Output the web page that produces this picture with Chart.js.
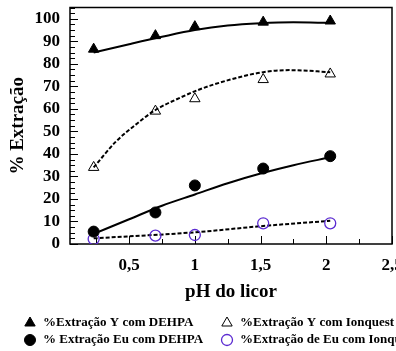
<!DOCTYPE html>
<html>
<head>
<meta charset="utf-8">
<script src="https://cdn.jsdelivr.net/npm/chart.js@4"></script>
<style>
  html, body { margin: 0; padding: 0; background: #fff; overflow: hidden; }
  #wrap { width: 412px; height: 351px; }
</style>
</head>
<body>
<div id="wrap"><canvas id="myChart"></canvas></div>
<script>
// measured points
const phValues = [0.23, 0.70, 1.0, 1.52, 2.03];
const yDehpa = [86.5, 92.5, 96.5, 98.5, 99];
const yIonquest = [34, 59, 64.5, 73, 75.5];
const euDehpa = [5.5, 14, 26, 33.5, 39];
const euIonquest = [2.2, 3.7, 4, 9.2, 9.2];

// trend lines
const yDehpaFitX = [0.23, 0.5, 0.75, 1.0, 1.25, 1.5, 1.75, 2.03];
const yDehpaFitY = [85, 88.7, 92, 95, 97, 98, 98.4, 98.2];
const yIonquestFitX = [0.23, 0.4, 0.55, 0.7, 0.89, 1.03, 1.27, 1.52, 1.72, 2.03];
const yIonquestFitY = [34, 45.5, 53, 59.5, 65, 68.5, 73, 76.3, 77.2, 76.3];
const euDehpaFitX = [0.23, 0.5, 0.75, 1.0, 1.25, 1.5, 1.75, 2.03];
const euDehpaFitY = [4.5, 11, 17, 22, 27, 31.3, 35, 38.5];
const euIonquestFitX = [0.23, 1.0, 1.52, 2.03];
const euIonquestFitY = [2.5, 5.2, 8, 10.3];

const seriesLabels = [
  "%Extração Y com DEHPA",
  "%Extração Y com Ionquest",
  "% Extração Eu com DEHPA",
  "%Extração de Eu com Ionquest",
];
const xTicks = [0.5, 1, 1.5, 2, 2.5];
const xTickLabels = ["0,5", "1", "1,5", "2", "2,5"];
const yTicks = [0, 10, 20, 30, 40, 50, 60, 70, 80, 90, 100];

const serif = "'Liberation Serif', 'Times New Roman', serif";
const purple = "#5b2bd1";
const pts = (xs, ys) => xs.map((x, i) => ({ x: x, y: ys[i] }));

const ctx = document.getElementById("myChart");

// box round the plot and inward ticks
const frameTicks = {
  id: "frameTicks",
  beforeDatasetsDraw(chart) {
    const { ctx, chartArea: a, scales: { x, y } } = chart;
    ctx.save();
    ctx.strokeStyle = "#000";
    ctx.lineWidth = 1.5;
    ctx.strokeRect(a.left, a.top, a.right - a.left, a.bottom - a.top);
    ctx.lineWidth = 1;
    for (let i = 0; i <= 42; i++) {
      const py = Math.round(y.getPixelForValue(i * 2.5)) + 0.5;
      const len = i % 4 === 0 ? 8 : 5;
      ctx.beginPath();
      ctx.moveTo(a.left, py);
      ctx.lineTo(a.left + len, py);
      ctx.stroke();
    }
    for (let i = 1; i <= 10; i++) {
      const px = Math.round(x.getPixelForValue(i * 0.25)) + 0.5;
      const len = i % 2 === 0 ? 8 : 5;
      ctx.beginPath();
      ctx.moveTo(px, a.bottom);
      ctx.lineTo(px, a.bottom - len);
      ctx.stroke();
    }
    ctx.restore();
  },
};

// two-column legend under the axis
const legendBox = {
  id: "legendBox",
  afterDraw(chart) {
    const c = chart.ctx;
    const spots = [[30, 323], [227, 323], [30, 340], [227, 340]];
    chart.data.datasets.slice(0, 4).forEach((ds, i) => {
      const [lx, ly] = spots[i];
      c.save();
      c.fillStyle = ds.backgroundColor;
      c.strokeStyle = ds.borderColor;
      c.lineWidth = ds.borderWidth;
      Chart.helpers.drawPoint(c, {
        pointStyle: ds.pointStyle,
        radius: ds.pointRadius,
        rotation: 0,
        borderWidth: ds.borderWidth,
      }, lx, ly);
      c.fillStyle = "#000";
      c.font = "bold 13px " + serif;
      c.textBaseline = "middle";
      c.fillText(ds.label, lx + 13, ly);
      c.restore();
    });
  },
};

const marker = (label, data, style, fill, border, width, radius) => ({
  label: label,
  data: data,
  showLine: false,
  pointStyle: style,
  pointRadius: radius,
  backgroundColor: fill,
  borderColor: border,
  borderWidth: width,
});

const fitLine = (data, dashed) => ({
  data: data,
  showLine: true,
  pointRadius: 0,
  borderColor: "#000",
  borderWidth: 2,
  borderDash: dashed ? [4, 2] : [],
  cubicInterpolationMode: "monotone",
  fill: false,
});

new Chart(ctx, {
  type: "scatter",
  data: {
    datasets: [
      marker(seriesLabels[0], pts(phValues, yDehpa), "triangle", "#000", "#000", 1, 6),
      marker(seriesLabels[1], pts(phValues, yIonquest), "triangle", "rgba(255,255,255,0)", "#000", 1, 6),
      marker(seriesLabels[2], pts(phValues, euDehpa), "circle", "#000", "#000", 1, 5.5),
      marker(seriesLabels[3], pts(phValues, euIonquest), "circle", "rgba(255,255,255,0)", purple, 1.3, 5.5),
      fitLine(pts(yDehpaFitX, yDehpaFitY), false),
      fitLine(pts(yIonquestFitX, yIonquestFitY), true),
      fitLine(pts(euDehpaFitX, euDehpaFitY), false),
      fitLine(pts(euIonquestFitX, euIonquestFitY), true),
    ],
  },
  options: {
    responsive: true,
    maintainAspectRatio: false,
    animation: false,
    layout: { padding: { left: 0, right: 20, top: 7.5, bottom: 46 } },
    plugins: {
      legend: { display: false },
      tooltip: { enabled: false },
    },
    scales: {
      x: {
        type: "linear",
        min: 0.05,
        max: 2.5,
        grid: { display: false, drawTicks: false },
        border: { display: false },
        afterBuildTicks: (s) => { s.ticks = xTicks.map((v) => ({ value: v })); },
        afterFit: (s) => { s.height = 61; s.paddingLeft = 0; s.paddingRight = 0; },
        ticks: {
          autoSkip: false,
          maxRotation: 0,
          padding: 11,
          color: "#000",
          font: { family: serif, size: 17, weight: "bold" },
          callback: (v, i) => xTickLabels[i],
        },
        title: {
          display: true,
          text: "pH do licor",
          color: "#000",
          padding: { top: 0, bottom: 2 },
          font: { family: serif, size: 19, weight: "bold" },
        },
      },
      y: {
        min: 0,
        max: 105,
        grid: { display: false, drawTicks: false },
        border: { display: false },
        afterBuildTicks: (s) => { s.ticks = yTicks.map((v) => ({ value: v })); },
        afterFit: (s) => { s.width = 70; s.paddingTop = 0; s.paddingBottom = 0; },
        ticks: {
          padding: 10,
          color: "#000",
          font: { family: serif, size: 17, weight: "bold" },
        },
        title: {
          display: true,
          text: "% Extração",
          color: "#000",
          padding: { top: 6.5, bottom: 0 },
          font: { family: serif, size: 19, weight: "bold" },
        },
      },
    },
  },
  plugins: [frameTicks, legendBox],
});
</script>
</body>
</html>
